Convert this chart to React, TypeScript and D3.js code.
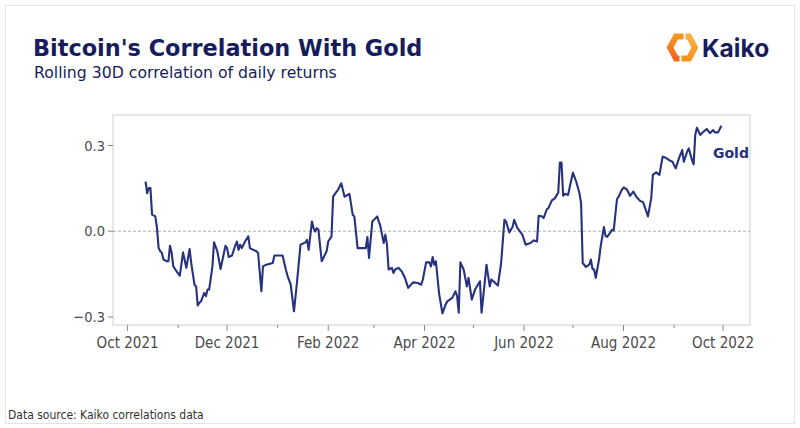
import React from "react";
import * as d3 from "d3";

const dates = [
  "2021-10-12","2021-10-13","2021-10-14","2021-10-15","2021-10-16","2021-10-18","2021-10-19","2021-10-20","2021-10-21","2021-10-22",
  "2021-10-23","2021-10-25","2021-10-26","2021-10-27","2021-10-28","2021-10-29","2021-10-31","2021-11-02","2021-11-04","2021-11-06",
  "2021-11-08","2021-11-09","2021-11-11","2021-11-12","2021-11-13","2021-11-14","2021-11-15","2021-11-17","2021-11-18","2021-11-19",
  "2021-11-20","2021-11-22","2021-11-23","2021-11-25","2021-11-27","2021-11-30","2021-12-01","2021-12-02","2021-12-04","2021-12-06",
  "2021-12-07","2021-12-08","2021-12-09","2021-12-10","2021-12-12","2021-12-14","2021-12-15","2021-12-17","2021-12-19","2021-12-20",
  "2021-12-22","2021-12-23","2021-12-25","2021-12-29","2021-12-30","2022-01-04","2022-01-06","2022-01-07","2022-01-09","2022-01-11",
  "2022-01-13","2022-01-15","2022-01-18","2022-01-19","2022-01-20","2022-01-22","2022-01-23","2022-01-24","2022-01-25","2022-01-26",
  "2022-01-28","2022-01-31","2022-02-01","2022-02-03","2022-02-04","2022-02-06","2022-02-07","2022-02-09","2022-02-11","2022-02-14",
  "2022-02-16","2022-02-17","2022-02-19","2022-02-21","2022-02-24","2022-02-25","2022-02-26","2022-02-28","2022-03-02","2022-03-03",
  "2022-03-05","2022-03-07","2022-03-08","2022-03-09","2022-03-10","2022-03-12","2022-03-13","2022-03-14","2022-03-16","2022-03-18",
  "2022-03-20","2022-03-22","2022-03-25","2022-03-28","2022-03-30","2022-03-31","2022-04-02","2022-04-04","2022-04-05","2022-04-06",
  "2022-04-07","2022-04-08","2022-04-10","2022-04-12","2022-04-14","2022-04-15","2022-04-18","2022-04-20","2022-04-21","2022-04-22",
  "2022-04-23","2022-04-25","2022-04-27","2022-04-28","2022-04-30","2022-05-02","2022-05-05","2022-05-06","2022-05-08","2022-05-09",
  "2022-05-11","2022-05-12","2022-05-14","2022-05-16","2022-05-18","2022-05-20","2022-05-21","2022-05-23","2022-05-25","2022-05-26",
  "2022-05-28","2022-05-31","2022-06-02","2022-06-05","2022-06-07","2022-06-09","2022-06-10","2022-06-12","2022-06-13","2022-06-15",
  "2022-06-16","2022-06-18","2022-06-20","2022-06-22","2022-06-23","2022-06-24","2022-06-25","2022-06-26","2022-06-28","2022-06-30",
  "2022-07-01","2022-07-03","2022-07-05","2022-07-06","2022-07-07","2022-07-09","2022-07-11","2022-07-12","2022-07-13","2022-07-14",
  "2022-07-15","2022-07-17","2022-07-18","2022-07-20","2022-07-21","2022-07-22","2022-07-24","2022-07-25","2022-07-26","2022-07-28",
  "2022-07-29","2022-07-31","2022-08-01","2022-08-03","2022-08-05","2022-08-07","2022-08-09","2022-08-11","2022-08-13","2022-08-15",
  "2022-08-16","2022-08-18","2022-08-19","2022-08-21","2022-08-23","2022-08-25","2022-08-27","2022-08-29","2022-08-31","2022-09-02",
  "2022-09-04","2022-09-06","2022-09-07","2022-09-09","2022-09-10","2022-09-12","2022-09-13","2022-09-14","2022-09-15","2022-09-17",
  "2022-09-19","2022-09-21","2022-09-23","2022-09-25","2022-09-26","2022-09-28","2022-09-30"
];

const goldCorr = [
  0.174,0.133,0.151,0.151,0.058,0.052,0.012,-0.058,-0.070,-0.075,
  -0.099,-0.105,-0.105,-0.051,-0.075,-0.123,-0.140,-0.155,-0.074,-0.128,
  -0.062,-0.111,-0.187,-0.193,-0.260,-0.250,-0.245,-0.216,-0.227,-0.204,
  -0.204,-0.123,-0.039,-0.070,-0.132,-0.051,-0.059,-0.090,-0.085,-0.050,
  -0.036,-0.065,-0.047,-0.059,-0.036,-0.018,-0.059,-0.065,-0.070,-0.076,
  -0.210,-0.123,-0.117,-0.111,-0.085,-0.085,-0.134,-0.155,-0.187,-0.280,
  -0.169,-0.047,-0.039,-0.030,-0.065,0.034,0.011,-0.001,0.011,0.005,
  -0.105,-0.070,-0.036,-0.018,0.121,0.138,0.145,0.168,0.121,0.131,
  0.058,0.052,-0.059,-0.059,-0.059,-0.020,-0.093,0.034,0.046,0.052,
  0.017,-0.041,-0.012,-0.047,-0.134,-0.128,-0.146,-0.134,-0.128,-0.140,
  -0.163,-0.198,-0.179,-0.181,-0.187,-0.169,-0.109,-0.109,-0.123,-0.090,
  -0.117,-0.105,-0.220,-0.287,-0.256,-0.245,-0.233,-0.210,-0.227,-0.285,
  -0.109,-0.134,-0.193,-0.163,-0.239,-0.204,-0.175,-0.285,-0.175,-0.117,
  -0.193,-0.169,-0.179,-0.190,-0.111,0.040,0.034,-0.004,0.015,0.040,
  0.011,-0.012,-0.047,-0.041,-0.032,-0.036,0.054,0.052,0.046,0.077,
  0.081,0.107,0.116,0.135,0.240,0.240,0.124,0.131,0.127,0.180,
  0.205,0.174,0.133,0.098,-0.111,-0.125,-0.117,-0.099,-0.132,-0.134,
  -0.163,-0.099,-0.053,0.015,-0.016,-0.020,-0.004,0.005,0.003,0.112,
  0.121,0.145,0.153,0.147,0.124,0.139,0.120,0.107,0.102,0.069,
  0.052,0.116,0.197,0.206,0.197,0.261,0.257,0.249,0.243,0.220,
  0.255,0.284,0.243,0.278,0.290,0.249,0.234,0.337,0.362,0.337,
  0.348,0.358,0.343,0.354,0.346,0.346,0.369
];

const seriesName = "Gold";
const xTickMonths = [
  "2021-10-01","2021-11-01","2021-12-01","2022-01-01","2022-02-01","2022-03-01","2022-04-01",
  "2022-05-01","2022-06-01","2022-07-01","2022-08-01","2022-09-01","2022-10-01"
];
const yTicks = [-0.3, 0, 0.3];
const title = "Bitcoin's Correlation With Gold";
const subtitle = "Rolling 30D correlation of daily returns";
const source = "Data source: Kaiko correlations data";
const brand = "Kaiko";

const W = 800, H = 428;
const panel = { left: 113, right: 750, top: 115, bottom: 325 };
const NAVY = "#161c5c";
const LINE = "#26327f";

export default function App() {
  const parse = d3.utcParse("%Y-%m-%d");
  const data = dates.map((d, i) => ({ date: parse(d) as Date, value: goldCorr[i] }));

  const x = d3.scaleUtc()
    .domain([parse("2021-10-01") as Date, parse("2022-10-01") as Date])
    .range([127.6, 723]);
  const y = d3.scaleLinear().domain([-0.3, 0.3]).range([317, 145.5]);

  const line = d3.line<{ date: Date; value: number }>()
    .x(d => x(d.date))
    .y(d => y(d.value))
    .curve(d3.curveLinear);

  const fmtMonth = d3.utcFormat("%b %Y");
  const fmtY = d3.format(".1f");
  const months = xTickMonths.map(m => parse(m) as Date);

  const font = "'DejaVu Sans', sans-serif";
  const condensed = "'DejaVu Sans Condensed', 'DejaVu Sans', sans-serif";

  const lc = { x: 682.5, y: 47.5 };

  return (
    <div style={{ position: "fixed", left: 0, top: 0, width: W, height: H, background: "#fff" }}>
      <svg width={W} height={H} viewBox={`0 0 ${W} ${H}`} style={{ display: "block" }}>
        <defs>
          <linearGradient id="lg1" x1="0" y1="0" x2="0" y2="1">
            <stop offset="0" stopColor="#f7941d" />
            <stop offset="1" stopColor="#f26522" />
          </linearGradient>
          <linearGradient id="lg2" x1="0" y1="0" x2="0" y2="1">
            <stop offset="0" stopColor="#fbb040" />
            <stop offset="1" stopColor="#f7941d" />
          </linearGradient>
        </defs>
        <rect x={0} y={0} width={W} height={H} fill="#fff" />
        <rect x={5.5} y={5.5} width={789} height={418} fill="none" stroke="#e4e4e4" strokeWidth={1} />

        <text x={33} y={56} fontFamily={font} fontWeight={700} fontSize={22.4} fill={NAVY}>{title}</text>
        <text x={34} y={78} fontFamily={font} fontSize={15.7} fill={NAVY}>{subtitle}</text>

        <path
          d={`M${lc.x + 1},${lc.y - 11} L${lc.x - 6.5},${lc.y - 11} L${lc.x - 12.5},${lc.y} L${lc.x - 6.5},${lc.y + 11} L${lc.x - 3},${lc.y + 11}`}
          fill="none" stroke="url(#lg1)" strokeWidth={6} strokeLinejoin="miter"
        />
        <path
          d={`M${lc.x - 1},${lc.y + 11} L${lc.x + 6.5},${lc.y + 11} L${lc.x + 12.5},${lc.y} L${lc.x + 6.5},${lc.y - 11} L${lc.x + 3},${lc.y - 11}`}
          fill="none" stroke="url(#lg2)" strokeWidth={6} strokeLinejoin="miter"
        />
        <text x={702} y={57} fontFamily="Inter, sans-serif" fontWeight={700} fontSize={24.5} fill={NAVY}>{brand}</text>

        <rect x={panel.left} y={panel.top} width={panel.right - panel.left} height={panel.bottom - panel.top}
          fill="none" stroke="#cfcfcf" strokeWidth={1} />
        <line x1={panel.left} x2={panel.right} y1={y(0)} y2={y(0)} stroke="#9a9a9a" strokeWidth={0.8} strokeDasharray="3,2" />

        {yTicks.map(t => (
          <g key={t}>
            <line x1={panel.left - 5} x2={panel.left} y1={y(t)} y2={y(t)} stroke="#888" strokeWidth={1} />
            <text x={panel.left - 8} y={y(t)} dy="0.35em" textAnchor="end" fontFamily={condensed} fontSize={14.5} fill="#4a4a4a">{fmtY(t)}</text>
          </g>
        ))}

        {months.map((m, i) => {
          const major = i % 2 === 0;
          return (
            <g key={i}>
              <line x1={x(m)} x2={x(m)} y1={panel.bottom} y2={panel.bottom + (major ? 6 : 3)} stroke="#888" strokeWidth={1} />
              {major && (
                <text x={x(m)} y={348} textAnchor="middle" fontFamily={condensed} fontSize={15} fill="#4a4a4a">{fmtMonth(m)}</text>
              )}
            </g>
          );
        })}

        <path d={line(data) || ""} fill="none" stroke={LINE} strokeWidth={2.1} strokeLinejoin="round" />
        <text x={713} y={158} fontFamily={font} fontWeight={700} fontSize={14} fill={LINE}>{seriesName}</text>

        <text x={8} y={419} fontFamily={condensed} fontSize={12} fill="#333">{source}</text>
      </svg>
    </div>
  );
}
